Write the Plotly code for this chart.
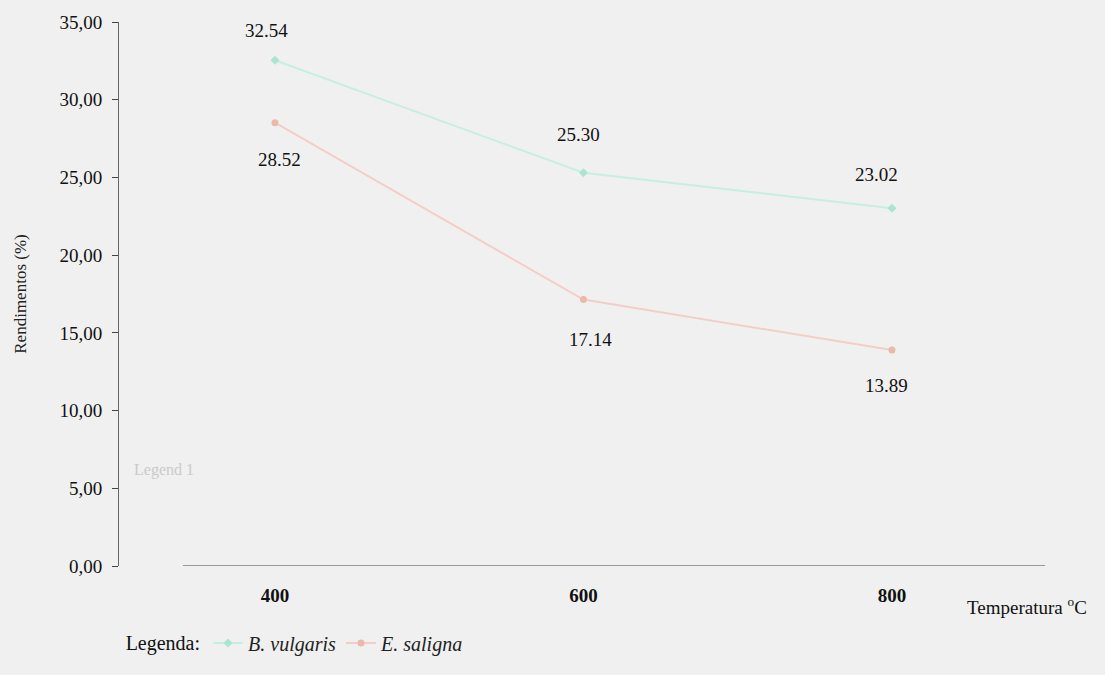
import plotly.graph_objects as go

temperaturas = [400, 600, 800]
tick_labels = ["400", "600", "800"]
b_vulgaris = [32.54, 25.30, 23.02]
e_saligna = [28.52, 17.14, 13.89]
y_ticks = [0, 5, 10, 15, 20, 25, 30, 35]

serif = "Liberation Serif, Times New Roman, serif"
bg = "#f0f0f0"

fig = go.Figure()
fig.add_trace(go.Scatter(
    x=temperaturas, y=b_vulgaris, mode="lines+markers",
    name="<i>B. vulgaris</i>",
    line=dict(color="#c6efe2", width=2),
    marker=dict(symbol="diamond", size=7, color="#a9e6d2"),
))
fig.add_trace(go.Scatter(
    x=temperaturas, y=e_saligna, mode="lines+markers",
    name="<i>E. saligna</i>",
    line=dict(color="#f4cec6", width=2),
    marker=dict(symbol="circle", size=7, color="#ebb9ab"),
))

# value labels (offsets in pixels from each point)
b_shift = [(-8, 30), (-5, 38), (-15, 34)]
e_shift = [(5, -37), (7, -40), (-5, -35)]
for xv, yv, (dx, dy) in zip(temperaturas, b_vulgaris, b_shift):
    fig.add_annotation(x=xv, y=yv, text=f"{yv:.2f}", showarrow=False,
                       xshift=dx, yshift=dy,
                       font=dict(family=serif, size=19, color="#111"))
for xv, yv, (dx, dy) in zip(temperaturas, e_saligna, e_shift):
    fig.add_annotation(x=xv, y=yv, text=f"{yv:.2f}", showarrow=False,
                       xshift=dx, yshift=dy,
                       font=dict(family=serif, size=19, color="#111"))

fig.add_annotation(xref="paper", yref="paper", x=0.9136, y=-0.074,
                   xanchor="left", yanchor="middle", showarrow=False,
                   text="Temperatura <sup>o</sup>C",
                   font=dict(family=serif, size=19, color="#111"))
fig.add_annotation(xref="paper", yref="paper", x=0.014, y=0.177,
                   xanchor="left", yanchor="middle", showarrow=False,
                   text="Legend 1",
                   font=dict(family=serif, size=16, color="#cacaca"))

# partial x-axis baseline
fig.add_shape(type="line", xref="paper", yref="y", x0=0.069, x1=1.0, y0=0, y1=0,
              line=dict(color="#9a9a9a", width=2))

fig.update_layout(
    width=1105, height=675,
    margin=dict(l=119, r=60, t=18, b=92),
    paper_bgcolor=bg, plot_bgcolor=bg,
    separators=",.",
    font=dict(family=serif, color="#111"),
    showlegend=True,
    legend=dict(
        orientation="h", x=0.005, y=-0.1416, xanchor="left", yanchor="middle",
        title=dict(text="Legenda:", font=dict(family=serif, size=20, color="#111")),
        font=dict(family=serif, size=20, color="#222"),
        bgcolor="rgba(0,0,0,0)", itemwidth=30,
    ),
    xaxis=dict(
        range=[298.9, 899.2], tickvals=temperaturas, ticktext=tick_labels,
        showgrid=False, zeroline=False, showline=False, ticks="",
        tickfont=dict(family=serif, size=19, color="#111", weight="bold"),
        ticklabelstandoff=16,
    ),
    yaxis=dict(
        range=[0, 35], tickvals=y_ticks, tickformat=".2f",
        showgrid=False, zeroline=False, showline=True,
        linecolor="#666", linewidth=1, ticks="outside", ticklen=6,
        tickcolor="#444",
        tickfont=dict(family=serif, size=19, color="#111"),
        ticklabelstandoff=6,
        title=dict(text="Rendimentos (%)", standoff=28,
                   font=dict(family=serif, size=17, color="#222")),
    ),
)

fig.write_html("out.html", config={"displayModeBar": False},
               post_script="document.body.style.margin='0';")
